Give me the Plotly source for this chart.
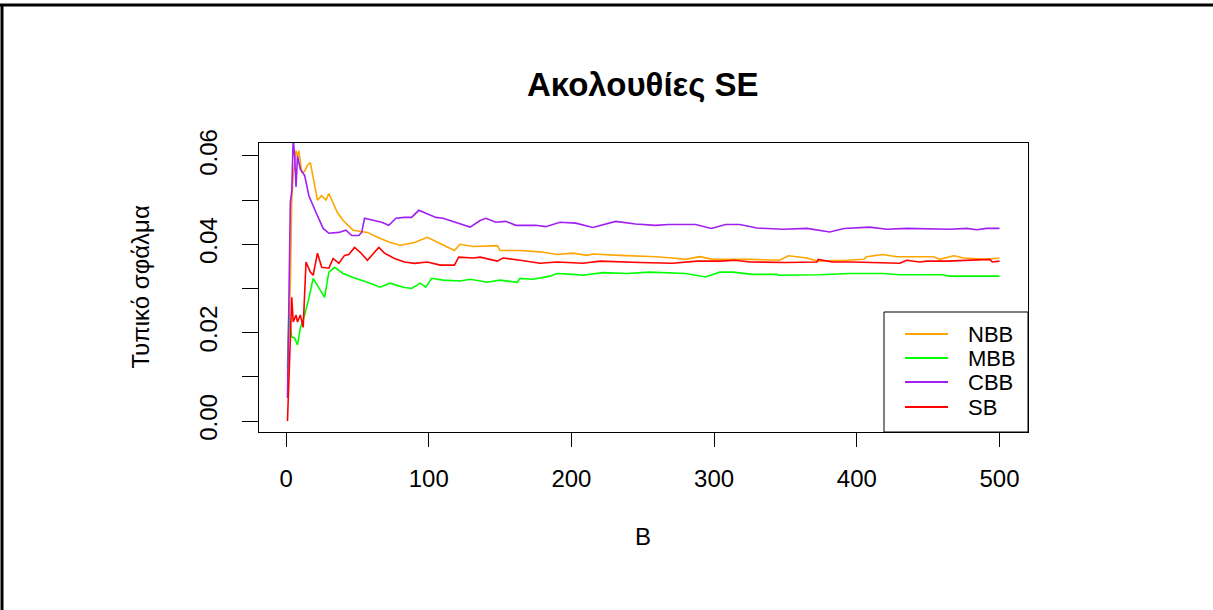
import plotly.graph_objects as go

# ---------------- data ----------------
series_names = ["NBB", "MBB", "CBB", "SB"]
series_colors = ["#FFA500", "#00FF00", "#A020F0", "#FF0000"]

nbb_B = [1, 3, 4, 5, 7, 8, 9, 11, 13, 15, 17, 19, 22, 25, 28, 30, 36, 40, 47, 57, 64, 73, 80, 90, 99,
         108, 118, 122, 131, 148, 150, 164, 178, 190, 201, 211, 215, 234, 248, 259, 271, 280, 290, 299,
         311, 325, 346, 352, 365, 372, 393, 405, 407, 418, 428, 454, 458, 468, 475, 491, 500]
nbb_se = [0.0100, 0.0310, 0.0500, 0.0556, 0.0612, 0.0600, 0.0612, 0.0563, 0.0565, 0.0579, 0.0585, 0.0549,
          0.0500, 0.0510, 0.0500, 0.0515, 0.0472, 0.0454, 0.0432, 0.0427, 0.0416, 0.0404, 0.0398, 0.0404,
          0.0416, 0.0402, 0.0386, 0.0400, 0.0395, 0.0397, 0.0386, 0.0386, 0.0383, 0.0377, 0.0380, 0.0375,
          0.0378, 0.0375, 0.0374, 0.0372, 0.0369, 0.0366, 0.0372, 0.0366, 0.0366, 0.0366, 0.0364, 0.0374,
          0.0369, 0.0362, 0.0364, 0.0366, 0.0372, 0.0377, 0.0372, 0.0372, 0.0366, 0.0374, 0.0369, 0.0366,
          0.0369]

mbb_B = [1, 2, 4, 6, 8, 10, 13, 16, 19, 23, 27, 30, 34, 40, 47, 57, 66, 73, 82, 88, 94, 98, 102, 110,
         122, 129, 141, 150, 162, 164, 173, 185, 190, 201, 208, 222, 239, 255, 271, 280, 294, 304, 313,
         327, 344, 345, 374, 395, 418, 430, 460, 465, 500]
mbb_se = [0.0120, 0.0240, 0.0190, 0.0188, 0.0172, 0.0210, 0.0240, 0.0278, 0.0323, 0.0300, 0.0280, 0.0337,
          0.0348, 0.0334, 0.0325, 0.0314, 0.0303, 0.0312, 0.0303, 0.0300, 0.0312, 0.0303, 0.0323, 0.0319,
          0.0317, 0.0321, 0.0314, 0.0319, 0.0314, 0.0323, 0.0321, 0.0328, 0.0334, 0.0332, 0.0330, 0.0336,
          0.0334, 0.0337, 0.0334, 0.0334, 0.0326, 0.0337, 0.0337, 0.0332, 0.0332, 0.0330, 0.0331, 0.0334,
          0.0334, 0.0331, 0.0331, 0.0328, 0.0328]

cbb_B = [1, 2, 3, 4, 5, 6, 7, 8, 10, 13, 16, 21, 26, 30, 37, 42, 46, 51, 53, 55, 62, 67, 72, 77, 83, 88,
         93, 98, 105, 110, 118, 129, 136, 140, 147, 154, 161, 175, 182, 192, 203, 215, 231, 245, 259, 268,
         287, 298, 308, 318, 330, 348, 365, 381, 391, 409, 421, 435, 465, 477, 484, 491, 500]
cbb_se = [0.0052, 0.0250, 0.0495, 0.0520, 0.0640, 0.0600, 0.0530, 0.0600, 0.0570, 0.0556, 0.0510, 0.0472,
          0.0436, 0.0425, 0.0427, 0.0432, 0.0420, 0.0420, 0.0427, 0.0459, 0.0454, 0.0450, 0.0443, 0.0459,
          0.0461, 0.0461, 0.0477, 0.0470, 0.0461, 0.0459, 0.0450, 0.0439, 0.0454, 0.0459, 0.0450, 0.0452,
          0.0443, 0.0443, 0.0440, 0.0450, 0.0448, 0.0438, 0.0452, 0.0446, 0.0443, 0.0445, 0.0445, 0.0436,
          0.0445, 0.0445, 0.0437, 0.0434, 0.0436, 0.0428, 0.0436, 0.0439, 0.0434, 0.0436, 0.0434, 0.0436,
          0.0433, 0.0436, 0.0436]

sb_B = [1, 2, 3, 4, 5, 7, 8, 10, 12, 14, 17, 19, 22, 25, 30, 33, 37, 41, 44, 48, 52, 57, 62, 65, 69, 76,
        83, 90, 99, 108, 118, 121, 131, 136, 148, 152, 164, 178, 190, 208, 220, 234, 248, 271, 288, 304,
        315, 325, 350, 372, 373, 383, 397, 430, 435, 444, 449, 463, 493, 495, 500]
sb_se = [0.0000, 0.0080, 0.0170, 0.0280, 0.0224, 0.0240, 0.0224, 0.0240, 0.0212, 0.0360, 0.0337, 0.0330,
         0.0380, 0.0348, 0.0346, 0.0368, 0.0357, 0.0375, 0.0377, 0.0393, 0.0382, 0.0364, 0.0382, 0.0393,
         0.0380, 0.0368, 0.0360, 0.0357, 0.0360, 0.0353, 0.0353, 0.0371, 0.0369, 0.0371, 0.0362, 0.0369,
         0.0364, 0.0357, 0.0360, 0.0357, 0.0362, 0.0360, 0.0359, 0.0357, 0.0362, 0.0362, 0.0364, 0.0360,
         0.0359, 0.0360, 0.0366, 0.0360, 0.0360, 0.0357, 0.0364, 0.0360, 0.0362, 0.0362, 0.0366, 0.0360,
         0.0362]

x_ticks = [0, 100, 200, 300, 400, 500]
y_ticks = [0.00, 0.01, 0.02, 0.03, 0.04, 0.05, 0.06]
y_tick_text = ["0.00", "", "0.02", "", "0.04", "", "0.06"]

title_text = "Ακολουθίες SE"
x_title = "B"
y_title = "Τυπικό σφάλμα"

# ---------------- figure ----------------
W, H = 1213, 610
L, R, T, Bm = 259, 185, 143, 178
PW, PH = W - L - R, H - T - Bm

def px(xp):
    return (xp - L) / PW

def py(yp):
    return (H - Bm - yp) / PH

FONT = "Liberation Sans, Arial, sans-serif"

fig = go.Figure()
xs = [nbb_B, mbb_B, cbb_B, sb_B]
ys = [nbb_se, mbb_se, cbb_se, sb_se]
for name, col, xv, yv in zip(series_names, series_colors, xs, ys):
    fig.add_trace(go.Scatter(x=xv, y=yv, mode="lines", name=name,
                             line=dict(color=col, width=1.6), showlegend=False))

fig.update_layout(
    width=W, height=H,
    margin=dict(l=L, r=R, t=T, b=Bm),
    paper_bgcolor="white", plot_bgcolor="white",
    font=dict(family=FONT, size=24, color="black"),
    showlegend=False,
)
fig.update_xaxes(range=[-18.96, 519.96], tickvals=x_ticks, ticks="outside", ticklen=14,
                 tickcolor="black", tickwidth=1, showgrid=False, zeroline=False,
                 showline=True, linecolor="black", linewidth=1, mirror=True,
                 tickfont=dict(size=24, family=FONT, color="black"), ticklabelstandoff=11)
fig.update_yaxes(range=[-0.00249, 0.06294], tickvals=y_ticks, ticktext=y_tick_text,
                 ticks="outside", ticklen=16, tickcolor="black", tickwidth=1,
                 showgrid=False, zeroline=False, tickangle=-90,
                 showline=True, linecolor="black", linewidth=1, mirror=True,
                 tickfont=dict(size=24, family=FONT, color="black"), ticklabelstandoff=15)

ann = []
ann.append(dict(text="<b>" + title_text + "</b>", x=px(643), y=py(84), xref="paper", yref="paper",
                showarrow=False, xanchor="center", yanchor="middle",
                font=dict(size=33, family=FONT, color="black")))
ann.append(dict(text=x_title, x=px(643), y=py(536), xref="paper", yref="paper",
                showarrow=False, xanchor="center", yanchor="middle",
                font=dict(size=24, family=FONT, color="black")))
ann.append(dict(text=y_title, x=px(140), y=0.5, xref="paper", yref="paper", textangle=-90,
                showarrow=False, xanchor="center", yanchor="middle",
                font=dict(size=24, family=FONT, color="black")))

shapes = []
# outer frame (top and left edges)
shapes.append(dict(type="line", xref="paper", yref="paper", x0=px(0), x1=px(W + 5), y0=py(5), y1=py(5),
                   line=dict(color="black", width=3)))
shapes.append(dict(type="line", xref="paper", yref="paper", x0=px(2), x1=px(2), y0=py(4), y1=py(H + 5),
                   line=dict(color="black", width=3)))
# legend box
shapes.append(dict(type="rect", xref="paper", yref="paper", x0=px(884), x1=1, y0=0, y1=py(312),
                   line=dict(color="black", width=1), fillcolor="white", layer="above"))
leg_y = [334, 358, 382, 407]
for name, col, yy in zip(series_names, series_colors, leg_y):
    shapes.append(dict(type="line", xref="paper", yref="paper", x0=px(905), x1=px(948),
                       y0=py(yy), y1=py(yy), line=dict(color=col, width=2), layer="above"))
    ann.append(dict(text=name, x=px(966), y=py(yy), xref="paper", yref="paper", showarrow=False,
                    xanchor="left", yanchor="middle", font=dict(size=22, family=FONT, color="black")))

fig.update_layout(annotations=ann, shapes=shapes)
fig.write_html("out.html")
